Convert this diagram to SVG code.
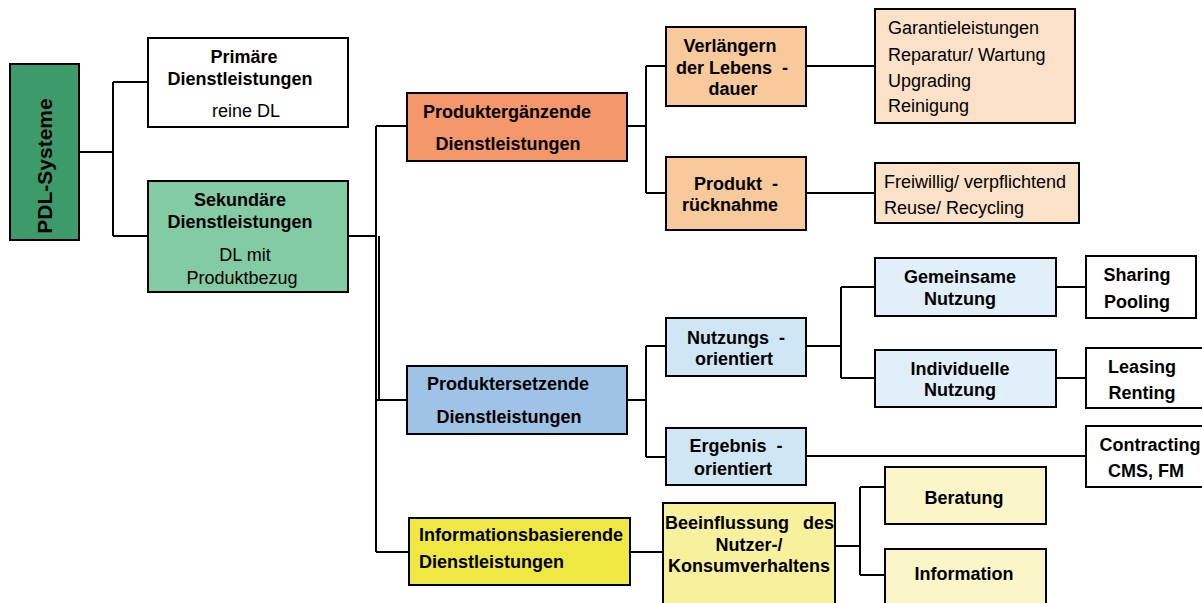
<svg xmlns="http://www.w3.org/2000/svg" width="1202" height="603" viewBox="0 0 1202 603">
<style>
.n rect{stroke:#000;stroke-width:2}
text{font-family:"Liberation Sans",Arial,sans-serif;fill:#000;font-size:18px}
.b{font-weight:bold;text-anchor:middle}
.r{text-anchor:middle}
.c{fill:none;stroke:#000;stroke-width:2}
</style>
<rect width="1202" height="603" fill="#fff"/>
<g id="connectors" class="c">
<path d="M79 152H113M113 82V236M113 82H148M113 236H148"/>
<path d="M348 236H377M376 126V552M379 236V400M376 126H407M376 400H407M376 552H409"/>
<path d="M627 126H646M646 66V193M646 66H666M646 193H666"/>
<path d="M806 66H875M806 193H875"/>
<path d="M627 400H646M646 346V457M646 346H666M646 457H666"/>
<path d="M806 346H841M841 287V378M841 287H875M841 378H875"/>
<path d="M1056 287H1086M1056 378H1086M806 456H1086"/>
<path d="M630 552H663"/>
<path d="M835 546H860M860 487V575M860 487H885M860 575H885"/>
</g>
<g class="n">
<g id="pdl"><rect x="10" y="64" width="69" height="176" fill="#3d9a6a"/><text class="b" style="font-size:21px" transform="translate(52 166) rotate(-90)">PDL-Systeme</text></g>
<g id="primaer"><rect x="148" y="38" width="200" height="89" fill="#fff"/><text class="b" x="244" y="63">Primäre</text><text class="b" x="240" y="85">Dienstleistungen</text><text class="r" x="246" y="117">reine DL</text></g>
<g id="sekundaer"><rect x="148" y="181" width="200" height="111" fill="#82cba4"/><text class="b" x="240" y="206">Sekundäre</text><text class="b" x="240" y="228">Dienstleistungen</text><text class="r" x="245" y="261">DL mit</text><text class="r" x="242" y="284">Produktbezug</text></g>
<g id="ergaenzend"><rect x="407" y="93" width="220" height="68" fill="#f4976a"/><text class="b" x="507" y="118">Produktergänzende</text><text class="b" x="508" y="150">Dienstleistungen</text></g>
<g id="verlaengern"><rect x="666" y="27" width="140" height="79" fill="#f8c99a"/><text class="b" x="730" y="52">Verlängern</text><text class="b" x="732" y="74" xml:space="preserve">der Lebens  -</text><text class="b" x="733" y="95">dauer</text></g>
<g id="ruecknahme"><rect x="666" y="157" width="140" height="73" fill="#f8c99a"/><text class="b" x="736" y="190" xml:space="preserve">Produkt  -</text><text class="b" x="730" y="211">rücknahme</text></g>
<g id="garantie"><rect x="875" y="9" width="200" height="114" fill="#fbe1c8"/><text x="888" y="34">Garantieleistungen</text><text x="888" y="61">Reparatur/ Wartung</text><text x="888" y="87">Upgrading</text><text x="888" y="112">Reinigung</text></g>
<g id="freiwillig"><rect x="875" y="163" width="204" height="60" fill="#fbe1c8"/><text x="884" y="188">Freiwillig/ verpflichtend</text><text x="884" y="214">Reuse/ Recycling</text></g>
<g id="ersetzend"><rect x="407" y="366" width="220" height="68" fill="#9fc3e6"/><text class="b" x="508" y="390">Produktersetzende</text><text class="b" x="509" y="423">Dienstleistungen</text></g>
<g id="nutzungs"><rect x="666" y="318" width="140" height="58" fill="#cfe6f5"/><text class="b" x="736" y="344" xml:space="preserve">Nutzungs  -</text><text class="b" x="734" y="365">orientiert</text></g>
<g id="ergebnis"><rect x="666" y="428" width="140" height="57" fill="#cfe6f5"/><text class="b" x="736" y="452" xml:space="preserve">Ergebnis  -</text><text class="b" x="733" y="475">orientiert</text></g>
<g id="gemeinsam"><rect x="875" y="258" width="181" height="58" fill="#e0eff9"/><text class="b" x="960" y="283">Gemeinsame</text><text class="b" x="960" y="305">Nutzung</text></g>
<g id="individuell"><rect x="875" y="350" width="181" height="57" fill="#e0eff9"/><text class="b" x="960" y="375">Individuelle</text><text class="b" x="960" y="396">Nutzung</text></g>
<g id="sharing"><rect x="1086" y="256" width="110" height="62" fill="#fff"/><text class="b" x="1137" y="281">Sharing</text><text class="b" x="1137" y="308">Pooling</text></g>
<g id="leasing"><rect x="1086" y="348" width="120" height="60" fill="#fff"/><text class="b" x="1142" y="373">Leasing</text><text class="b" x="1142" y="399">Renting</text></g>
<g id="contracting"><rect x="1086" y="426" width="120" height="61" fill="#fff"/><text class="b" x="1150" y="451">Contracting</text><text class="b" x="1146" y="477">CMS, FM</text></g>
<g id="info"><rect x="409" y="518" width="221" height="67" fill="#f0e842"/><text style="font-weight:bold" x="419" y="541">Informationsbasierende</text><text style="font-weight:bold" x="419" y="568">Dienstleistungen</text></g>
<g id="beeinflussung"><rect x="663" y="503" width="172" height="101" fill="#f7f09d"/><text style="font-weight:bold" x="665" y="529">Beeinflussung</text><text style="font-weight:bold;text-anchor:end" x="834" y="529">des</text><text class="b" x="749" y="551">Nutzer-/</text><text class="b" x="749" y="572">Konsumverhaltens</text></g>
<g id="beratung"><rect x="885" y="467" width="161" height="57" fill="#faf6c8"/><text class="b" x="964" y="504">Beratung</text></g>
<g id="information"><rect x="885" y="549" width="161" height="56" fill="#faf6c8"/><text class="b" x="964" y="580">Information</text></g>
</g>
</svg>
